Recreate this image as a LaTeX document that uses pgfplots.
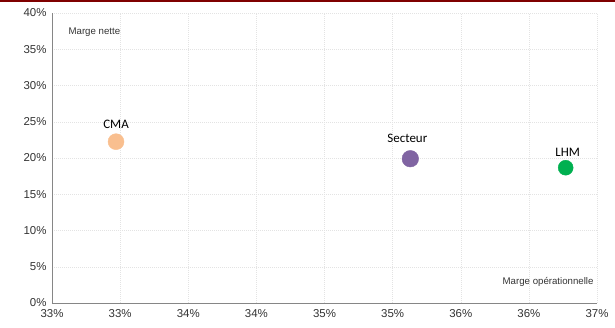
\documentclass[border=0pt]{standalone}
\usepackage{fontspec}
\setmainfont{Liberation Sans}
\newfontfamily\calib{Carlito}
\usepackage{pgfplots}
\pgfplotsset{compat=1.18}
\definecolor{cma}{HTML}{F9BF8F}
\definecolor{sect}{HTML}{8064A2}
\definecolor{lhm}{HTML}{00B050}
\definecolor{darkred}{HTML}{7F0000}
\definecolor{axgray}{HTML}{868686}
\definecolor{gridgray}{HTML}{E3E3E3}
\begin{document}
\begin{tikzpicture}[x=1bp,y=1bp]
\useasboundingbox (-52bp,-25bp) rectangle (563bp,303bp);
\fill[darkred] (-52bp,300.5bp) rectangle (563bp,303bp);
\begin{axis}[
  at={(0,0)}, anchor=south west,
  scale only axis, width=545bp, height=290bp,
  xmin=32.5, xmax=36.5, ymin=0, ymax=40,
  xtick={32.5,33,33.5,34,34.5,35,35.5,36,36.5},
  xticklabels={33\%,33\%,34\%,34\%,35\%,35\%,36\%,36\%,37\%},
  ytick={0,5,10,15,20,25,30,35,40},
  yticklabels={0\%,5\%,10\%,15\%,20\%,25\%,30\%,35\%,40\%},
  axis x line*=bottom, axis y line*=left,
  axis line style={axgray, line width=0.9pt, -},
  major tick length=0pt,
  grid=major,
  major grid style={gridgray, dash pattern=on 1bp off 1bp, line width=0.5pt},
  tick label style={font=\fontsize{11.5}{13}\selectfont, text=black!80},
  /pgf/number format/assume math mode=true,
  xticklabel style={yshift=-3bp},
  yticklabel style={xshift=-2bp},
  clip=false,
]
\addplot[only marks, mark=*, mark size=8bp, mark options={draw=cma, fill=cma}]
  coordinates {(32.97,22.25)} node[above, yshift=10bp, font=\calib\fontsize{13}{15}\selectfont] {CMA};
\addplot[only marks, mark=*, mark size=8.3bp, mark options={draw=sect, fill=sect}]
  coordinates {(35.13,19.9)} node[above, yshift=13bp, xshift=-3bp, font=\calib\fontsize{13}{15}\selectfont] {Secteur};
\addplot[only marks, mark=*, mark size=7.5bp, mark options={draw=lhm, fill=lhm}]
  coordinates {(36.27,18.66)} node[above, yshift=8bp, xshift=2bp, font=\calib\fontsize{13}{15}\selectfont] {LHM};
\node[anchor=west, font=\fontsize{9.7}{11}\selectfont, text=black!80] at (rel axis cs:0.024,0.935) {Marge nette};
\node[anchor=east, font=\fontsize{9.7}{11}\selectfont, text=black!80] at (rel axis cs:1,0.072) {Marge opérationnelle};
\end{axis}
\end{tikzpicture}
\end{document}
